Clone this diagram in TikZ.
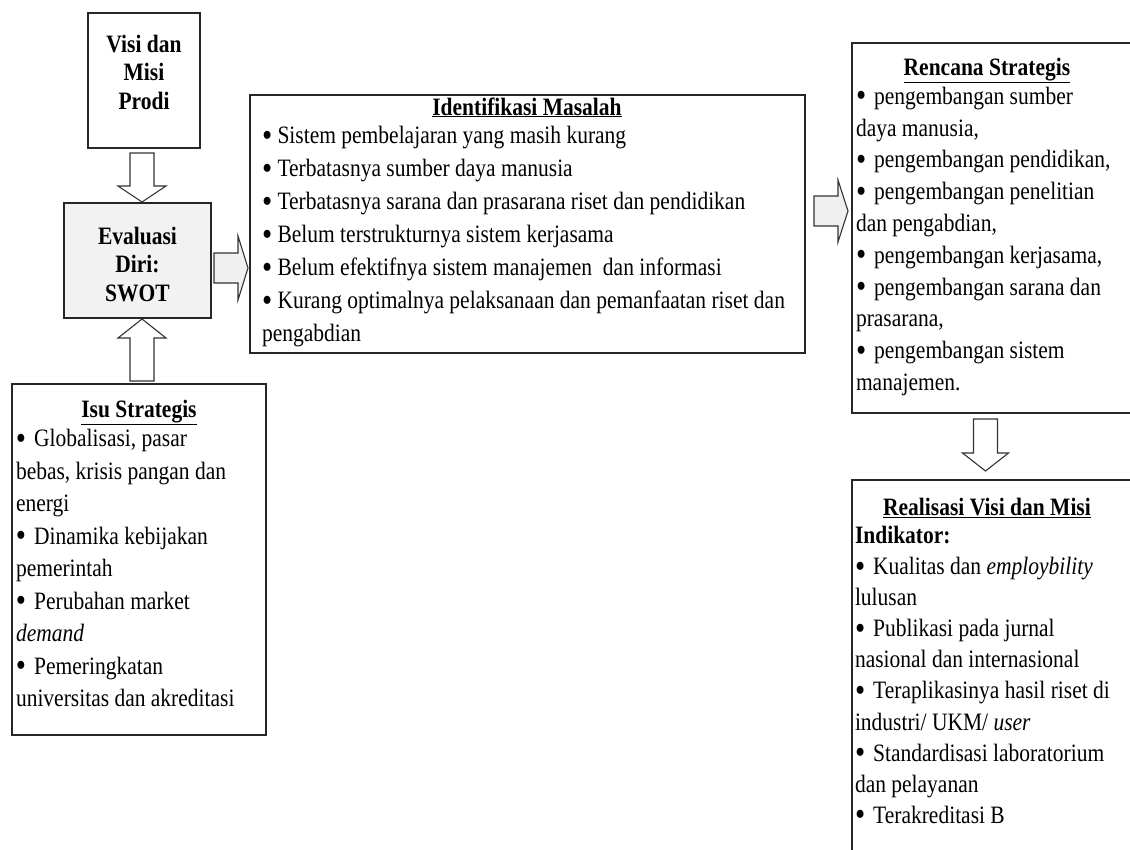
\documentclass[tikz,border=0pt]{standalone}
\usepackage{fontspec}
\setmainfont{Liberation Serif}[FakeStretch=0.86]
\usetikzlibrary{calc}
\newcommand{\bulx}{\raisebox{-2.6pt}{\scalebox{1.35}{\textbullet}}}
\begin{document}
\begin{tikzpicture}[x=1pt,y=-1pt,
  box/.style={draw=black!85, line width=1.3pt, inner sep=0pt, outer sep=0pt, anchor=north west},
  barrow/.style={draw=black!80, line width=1.1pt, fill=white, line join=miter},
  garrow/.style={barrow, fill=black!6},
  body/.style={inner sep=0pt, outer sep=0pt, align=left, anchor=north west, font=\fontsize{25}{#1}\selectfont},
  ctr/.style={inner sep=0pt, outer sep=0pt, align=center, font=\fontsize{25}{28.5}\selectfont\bfseries},
  ttl/.style={inner sep=0pt, outer sep=0pt, anchor=base, font=\fontsize{25}{26}\selectfont\bfseries}]
\useasboundingbox (0,0) rectangle (1130,849);

% boxes
\node[box, minimum width=112pt, minimum height=135pt] (visi) at (88,13) {};
\node[box, fill=black!5, minimum width=147pt, minimum height=115pt] (eval) at (64,203) {};
\node[box, minimum width=555pt, minimum height=258pt] (ident) at (250,95) {};
\node[box, minimum width=290pt, minimum height=370pt] (renc) at (852,43) {};
\node[box, minimum width=290pt, minimum height=390pt] (real) at (852,480) {};
\node[box, minimum width=254pt, minimum height=351pt] (isu) at (12,384) {};

% texts
\node[ctr] (visiT) at (144,72) {Visi dan\\Misi\\Prodi};
\node[ctr] (evalT) at ($(eval.center)+(0,4)$) {Evaluasi\\Diri:\\SWOT};

\node[ttl] (identT) at (527,115) {\underline{Identifikasi Masalah}};
\node[body=33] (identB) at (262,120.5) {\strut\bulx~Sistem pembelajaran yang masih kurang\\
\bulx~Terbatasnya sumber daya manusia\\
\bulx~Terbatasnya sarana dan prasarana riset dan pendidikan\\
\bulx~Belum terstrukturnya sistem kerjasama\\
\bulx~Belum efektifnya sistem manajemen~ dan informasi\\
\bulx~Kurang optimalnya pelaksanaan dan pemanfaatan riset dan\\
pengabdian};

\node[ttl] (rencT) at (987,75) {\underline{Rencana Strategis}};
\node[body=31.8] (rencB) at (856,82) {\strut\bulx\hspace{8pt}pengembangan sumber\\
daya manusia,\\
\bulx\hspace{8pt}pengembangan pendidikan,\\
\bulx\hspace{8pt}pengembangan penelitian\\
dan pengabdian,\\
\bulx\hspace{8pt}pengembangan kerjasama,\\
\bulx\hspace{8pt}pengembangan sarana dan\\
prasarana,\\
\bulx\hspace{8pt}pengembangan sistem\\
manajemen.};

\node[ttl] (realT) at (987,515) {\underline{Realisasi Visi dan Misi}};
\node[body=31.1] (realB) at (855,521.7) {\strut\textbf{Indikator:}\\
\bulx\hspace{8pt}Kualitas dan \textit{employbility}\\
lulusan\\
\bulx\hspace{8pt}Publikasi pada jurnal\\
nasional dan internasional\\
\bulx\hspace{8pt}Teraplikasinya hasil riset di\\
industri/ UKM/ \textit{user}\\
\bulx\hspace{8pt}Standardisasi laboratorium\\
dan pelayanan\\
\bulx\hspace{8pt}Terakreditasi B};

\node[ttl] (isuT) at (139,417) {\underline{Isu Strategis}};
\node[body=32.5] (isuB) at (16,424) {\strut\bulx\hspace{8pt}Globalisasi, pasar\\
bebas, krisis pangan dan\\
energi\\
\bulx\hspace{8pt}Dinamika kebijakan\\
pemerintah\\
\bulx\hspace{8pt}Perubahan market\\
\textit{demand}\\
\bulx\hspace{8pt}Pemeringkatan\\
universitas dan akreditasi};

% block arrows
\coordinate (d1) at ($(visi.south)+(-2,5)$);
\draw[barrow] (d1) ++(-12,0) -- ++(0,33) -- ++(-12,0) -- ++(24,16) -- ++(24,-16) -- ++(-12,0) -- ++(0,-33) -- cycle;

\coordinate (u1) at ($(isu.north)+(3,-3)$);
\draw[barrow] (u1) ++(-12,0) -- ++(0,-43) -- ++(-12,0) -- ++(24,-19) -- ++(24,19) -- ++(-12,0) -- ++(0,43) -- cycle;

\coordinate (r1) at ($(eval.east)+(3,7.5)$);
\draw[garrow] (r1) ++(0,-15) -- ++(24,0) -- ++(0,-17) -- ++(10,32) -- ++(-10,32) -- ++(0,-17) -- ++(-24,0) -- cycle;

\coordinate (r2) at ($(ident.east)+(9,-13)$);
\draw[garrow] (r2) ++(0,-15) -- ++(24,0) -- ++(0,-16) -- ++(10,31) -- ++(-10,31) -- ++(0,-16) -- ++(-24,0) -- cycle;

\coordinate (d2) at ($(renc.south)+(-11.5,6)$);
\draw[barrow] (d2) ++(-12,0) -- ++(0,34) -- ++(-11,0) -- ++(23,18) -- ++(23,-18) -- ++(-11,0) -- ++(0,-34) -- cycle;
\end{tikzpicture}
\end{document}
